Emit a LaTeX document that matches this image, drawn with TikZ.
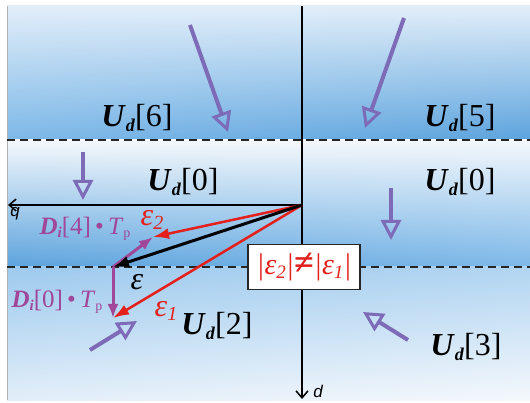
\documentclass[tikz,border=0pt]{standalone}
\usepackage{fontspec}
\setmainfont{Liberation Serif}
\newfontfamily\axisfont{Liberation Sans}
\usetikzlibrary{arrows.meta,shadings}

\definecolor{bandlight}{HTML}{E2EEF9}
\definecolor{banddark}{HTML}{5CA3DD}
\definecolor{bandmid}{HTML}{7DB8E8}
\definecolor{bandwhite}{HTML}{F4F8FC}
\definecolor{arrowviolet}{HTML}{7E6BB8}
\definecolor{vecpurple}{HTML}{A0479A}
\definecolor{errred}{HTML}{E3201C}

\newcommand{\Ulab}[1]{\textbf{\textit{U}}\raisebox{-0.3ex}{\fontsize{18}{20}\selectfont\textbf{\textit{d}}}[#1]}
\newcommand{\Dlab}[1]{\textbf{\textit{D}}\raisebox{-0.3ex}{\fontsize{15}{17}\selectfont\textbf{\textit{i}}}[#1]\,•\,\textit{T}\raisebox{-0.3ex}{\fontsize{14}{16}\selectfont p}}

\tikzset{
  vlabel/.style={inner sep=0pt,font=\fontsize{32}{34}\selectfont},
  dlabel/.style={inner sep=0pt,text=vecpurple,font=\fontsize{25}{27}\selectfont},
  elabel/.style={inner sep=0pt,font=\fontsize{32}{34}\selectfont\itshape},
  switcharrow/.style={arrowviolet,line width=4pt,
    -{Triangle[open,length=20pt,width=20pt,line width=3pt]}},
  errarrow/.style={errred,line width=2.5pt,-{Latex[length=16pt,width=11pt]}},
  vecarrow/.style={vecpurple,line width=3pt,-{Latex[length=14pt,width=11pt]}},
  axisline/.style={black,line width=1.5pt,-{Straight Barb[length=7pt,width=12pt]}},
  sepline/.style={black!85,line width=1.5pt,dash pattern=on 8pt off 5pt}
}

\begin{document}
\begin{tikzpicture}[x=1pt,y=-1pt]
    \useasboundingbox (0,0) rectangle (530,403);

    % bands
    \shade[upper left=bandlight,upper right=bandlight,
           lower left=bandmid,lower right=banddark] (7,6) rectangle (530,140);
    \shade[upper left=bandwhite,upper right=bandwhite,
           lower left=banddark,lower right=bandmid] (7,140) rectangle (530,267);
    \shade[upper left=bandmid!75!white,upper right=bandmid!60!white,
           lower left=bandlight,lower right=bandwhite] (7,267) rectangle (530,400);
    \draw[gray!60,line width=0.8pt] (7,6) -- (7,400);

    % dashed borders
    \foreach \y in {140,267}{
      \draw[sepline] (7,\y) -- (530,\y);
    }

    % axes
    \coordinate (O) at (302,205);
    \coordinate (top) at (302,6);
    \coordinate (qend) at (8,205);
    \coordinate (dend) at (302,399);
    \draw[black,line width=1.5pt] (O) -- (top);
    \draw[axisline] (O) -- (qend);
    \draw[axisline] (O) -- (dend);
    \node[inner sep=0pt,font=\axisfont\itshape\fontsize{17}{18}\selectfont] (qlab) at (15,214) {q};
    \node[inner sep=0pt,font=\axisfont\itshape\fontsize{17}{18}\selectfont] (dlab) at (318,391) {d};

    % switching vectors
    \foreach \a/\b/\n in {190/25/6, 404/18/5, 83/152/0l, 391/188/0r, 90/350/2, 408/340/3}{
      \coordinate (s\n) at (\a,\b);
    }
    \foreach \a/\b/\n in {228/132/6, 365/128/5, 83/200/0l, 391/240/0r, 137/321/2, 363/312/3}{
      \coordinate (t\n) at (\a,\b);
    }
    \foreach \n in {6,5,0l,0r,2,3}{
      \draw[switcharrow] (s\n) -- (t\n);
    }

    % voltage labels
    \node[vlabel] (U6) at (137,118) {\Ulab{6}};
    \node[vlabel] (U5) at (460,118) {\Ulab{5}};
    \node[vlabel] (U0a) at (183,182) {\Ulab{0}};
    \node[vlabel] (U0b) at (460,182) {\Ulab{0}};
    \node[vlabel] (U2) at (217,326) {\Ulab{2}};
    \node[vlabel] (U3) at (466,347) {\Ulab{3}};

    % error vectors
    \coordinate (e) at (113,267);
    \coordinate (e2) at (153,237);
    \coordinate (e1) at (113,318);
    \draw[vecarrow] (e) -- (e2);
    \draw[vecarrow] (e) -- (e1);
    \draw[errarrow] (O) -- (e2);
    \draw[errarrow] (O) -- (e1);
    \draw[black,line width=3pt,-{Latex[length=16pt,width=12pt]}] (O) -- (e);

    \node[dlabel] (D4) at (85,229) {\Dlab{4}};
    \node[dlabel] (D0) at (57,302) {\Dlab{0}};
    \node[elabel,text=errred] (eps2) at (152,220) {ε\raisebox{-0.3ex}{\fontsize{20}{22}\selectfont 2}};
    \node[elabel,text=errred] (eps1) at (166,311) {ε\raisebox{-0.3ex}{\fontsize{20}{22}\selectfont 1}};
    \node[elabel] (eps) at (137,282) {ε};

    % inequality box
    \node[draw=black!85,fill=white,line width=1.3pt,text=errred,
          minimum width=112pt,minimum height=45pt,inner sep=2pt,
          font=\fontsize{30}{32}\selectfont] (neq) at (304,267)
      {\textit{|ε\raisebox{-0.3ex}{\fontsize{19}{21}\selectfont 2}|}{\fontsize{36}{36}\selectfont\bfseries ≠}\textit{|ε\raisebox{-0.3ex}{\fontsize{19}{21}\selectfont 1}|}};
  \end{tikzpicture}
\end{document}
